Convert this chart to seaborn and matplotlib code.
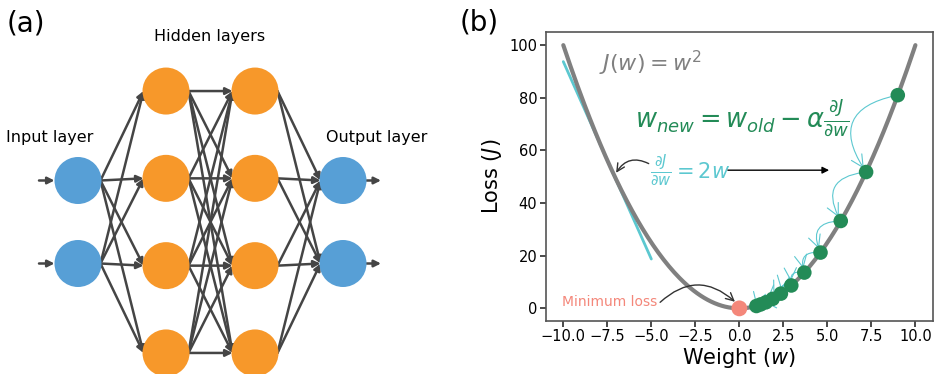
import numpy as np
import pandas as pd
import matplotlib
matplotlib.use('Agg')
import matplotlib.pyplot as plt
from matplotlib.patches import Circle, FancyArrowPatch
import seaborn as sns

# Data
layer_names = ['Input layer', 'Hidden layers', 'Output layer']
layer_sizes = [2, 4, 4, 2]

curve_w = np.linspace(-10, 10, 201)
curve_loss = curve_w ** 2  # J(w) = w^2

tangent_w = [-10.0, -5.0]
tangent_loss = [93.75, 18.75]

step_w = [9.0, 7.2, 5.76, 4.61, 3.69, 2.95, 2.36, 1.89, 1.51, 1.21, 0.97]
step_loss = [81.0, 51.8, 33.2, 21.2, 13.6, 8.7, 5.6, 3.6, 2.3, 1.5, 0.9]

min_w = [0.0]
min_loss = [0.0]

xticks = [-10.0, -7.5, -5.0, -2.5, 0.0, 2.5, 5.0, 7.5, 10.0]
yticks = [0, 20, 40, 60, 80, 100]

# Colours
c_blue = '#579fd6'
c_orange = '#f7982a'
c_edge = '#454545'
c_gray = '#808080'
c_cyan = '#5cc8d0'
c_green = '#238b57'
c_salmon = '#f4877a'

sns.set_theme(style='ticks')
plt.rcParams['font.family'] = ['DejaVu Sans']
plt.rcParams['mathtext.fontset'] = 'dejavusans'
plt.rcParams['text.color'] = 'black'
plt.rcParams['axes.labelcolor'] = 'black'
plt.rcParams['xtick.color'] = 'black'
plt.rcParams['ytick.color'] = 'black'

fig = plt.figure(figsize=(9.34, 3.74), dpi=100)

# ---------------- panel (a): network ----------------
ax_a = fig.add_axes([0, 0, 460 / 934, 1])
ax_a.set_xlim(0, 460)
ax_a.set_ylim(374, 0)
ax_a.axis('off')

layer_x = [78, 166, 255, 343]
spacing = {2: 83, 4: 87.3}
y_mid = 222
r = 23.5
nodes = []
for lx, n in zip(layer_x, layer_sizes):
    ys = [y_mid + (i - (n - 1) / 2) * spacing[n] for i in range(n)]
    nodes.append([(lx, y) for y in ys])

arrow_kw = dict(arrowstyle='-|>', color=c_edge, lw=1.8, mutation_scale=10,
                shrinkA=0, shrinkB=0)
for src, tgt in zip(nodes[:-1], nodes[1:]):
    for (x1, y1) in src:
        for (x2, y2) in tgt:
            ax_a.add_patch(FancyArrowPatch((x1 + r - 1, y1), (x2 - r + 1, y2),
                                           zorder=1, **arrow_kw))
for (x, y) in nodes[0]:
    ax_a.add_patch(FancyArrowPatch((39, y), (x - r, y), zorder=1, **arrow_kw))
for (x, y) in nodes[-1]:
    ax_a.add_patch(FancyArrowPatch((x + r, y), (381, y), zorder=1, **arrow_kw))

for li, layer in enumerate(nodes):
    col = c_blue if li in (0, len(nodes) - 1) else c_orange
    for (x, y) in layer:
        ax_a.add_patch(Circle((x, y), r, color=col, zorder=2, lw=0))

ax_a.text(6, 137, layer_names[0], fontsize=11.5, ha='left', va='center')
ax_a.text(210, 36, layer_names[1], fontsize=11.5, ha='center', va='center')
ax_a.text(326, 137, layer_names[2], fontsize=11.5, ha='left', va='center')
ax_a.text(7, 23, '(a)', fontsize=20, ha='left', va='center')

# ---------------- panel (b): gradient descent ----------------
ax = fig.add_axes([545.7 / 934, 1 - 321 / 374, (933 - 545.7) / 934, (321 - 32) / 374])

df_curve = pd.DataFrame({'w': curve_w, 'loss': curve_loss})
sns.lineplot(data=df_curve, x='w', y='loss', color=c_gray, lw=3, ax=ax, zorder=2)
ax.plot(tangent_w, tangent_loss, color=c_cyan, lw=2, zorder=1.5)

for i in range(len(step_w) - 1):
    ax.add_patch(FancyArrowPatch((step_w[i], step_loss[i]), (step_w[i + 1], step_loss[i + 1]),
                                 connectionstyle='arc3,rad=0.75', arrowstyle='->',
                                 mutation_scale=22, color=c_cyan, lw=0.8,
                                 shrinkA=2, shrinkB=3, zorder=2.5))

df_steps = pd.DataFrame({'w': step_w, 'loss': step_loss})
sns.scatterplot(data=df_steps, x='w', y='loss', color=c_green, s=110,
                edgecolor='none', ax=ax, zorder=3)
df_min = pd.DataFrame({'w': min_w, 'loss': min_loss})
sns.scatterplot(data=df_min, x='w', y='loss', color=c_salmon, s=130,
                edgecolor='none', ax=ax, zorder=3)

ax.text(-8.0, 93, r'$J(w) = w^2$', color=c_gray, fontsize=16, ha='left', va='center')
ax.text(-5.9, 72.5, r'$w_{new} = w_{old} - \alpha\frac{\partial J}{\partial w}$',
        color=c_green, fontsize=18.5, ha='left', va='center')
ax.text(-5.05, 52.5, r'$\frac{\partial J}{\partial w} = 2w$', color=c_cyan,
        fontsize=15, ha='left', va='center')
ax.annotate('', xy=(5.1, 52.5), xytext=(-0.65, 52.5),
            arrowprops=dict(arrowstyle='-|>', color='black', lw=1, mutation_scale=10,
                            shrinkA=0, shrinkB=0))
ax.annotate('', xy=(-7.0, 51.5), xytext=(-5.15, 55),
            arrowprops=dict(arrowstyle='->', color='#333333', lw=1, mutation_scale=14,
                            connectionstyle='arc3,rad=0.45', shrinkA=0, shrinkB=0))
ax.text(-10.05, 2.3, 'Minimum loss', color=c_salmon, fontsize=10, ha='left', va='center')
ax.annotate('', xy=(-0.25, 2.5), xytext=(-4.5, 2.3),
            arrowprops=dict(arrowstyle='->', color='#333333', lw=1, mutation_scale=14,
                            connectionstyle='arc3,rad=-0.45', shrinkA=0, shrinkB=0))

ax.set_xlim(-11, 11)
ax.set_ylim(-4.8, 105)
ax.set_xticks(xticks)
ax.set_yticks(yticks)
ax.tick_params(labelsize=10.5, length=4, color='#333333', pad=2)
ax.set_xlabel(r'Weight ($w$)', fontsize=15, labelpad=1)
ax.set_ylabel(r'Loss ($J$)', fontsize=15, labelpad=4)
for s in ax.spines.values():
    s.set_visible(True)
    s.set_color('#555555')
    s.set_linewidth(1.2)

fig.text(460 / 934, 1 - 23 / 374, '(b)', fontsize=20, ha='left', va='center')

fig.savefig('out.png', dpi=100)
